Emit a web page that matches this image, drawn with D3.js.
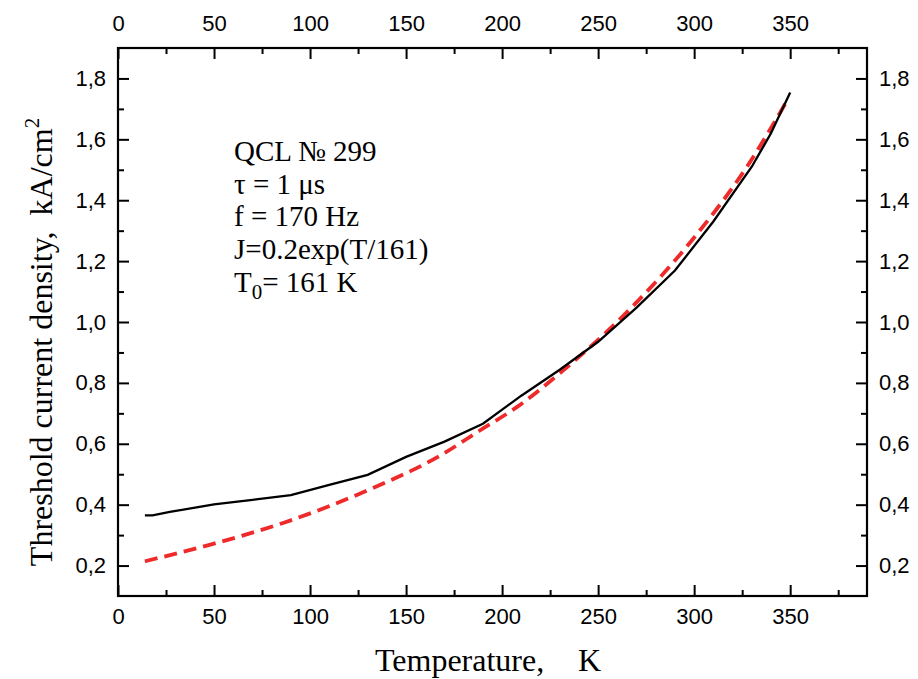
<!DOCTYPE html>
<html>
<head>
<meta charset="utf-8">
<script src="https://cdn.jsdelivr.net/npm/d3@7"></script>
<style>
  body { margin: 0; background: white; }
  .axis path { display: none; }
  .axis line { stroke: black; stroke-width: 2; }
  .axis text { font-family: "Liberation Sans", Arial, sans-serif; font-size: 22px; fill: black; }
</style>
</head>
<body>
<svg id="chart"></svg>
<script>
// --------------------------------------------------------------------------------------
// data
// --------------------------------------------------------------------------------------
var meas_t = [14, 18, 27, 50, 70, 90, 110, 130, 150, 170, 190, 210, 230, 250, 270, 290, 310, 330, 340, 350];
var meas_j = [0.365, 0.365, 0.376, 0.401, 0.416, 0.431, 0.465, 0.498, 0.557, 0.607, 0.666, 0.758, 0.843, 0.935, 1.047, 1.169, 1.33, 1.51, 1.62, 1.754];

var fit_t = [14, 50, 86, 131, 168, 188, 208, 232, 267, 298, 328, 348];
var fit_j = [0.214, 0.272, 0.34, 0.45, 0.562, 0.642, 0.722, 0.842, 1.045, 1.262, 1.515, 1.723];

var x_ticks = [0, 50, 100, 150, 200, 250, 300, 350];
var x_minor = [25, 75, 125, 175, 225, 275, 325, 375];
var y_ticks = [0.2, 0.4, 0.6, 0.8, 1.0, 1.2, 1.4, 1.6, 1.8];
var y_minor = [0.3, 0.5, 0.7, 0.9, 1.1, 1.3, 1.5, 1.7];

var note_lines = ["QCL \u2116 299", "\u03c4 = 1 \u03bcs", "f = 170 Hz", "J=0.2exp(T/161)"];

// --------------------------------------------------------------------------------------
var margin = {top: 48, right: 51, bottom: 83, left: 118};
var total_w = 918, total_h = 679;
var width = total_w - margin.left - margin.right;
var height = total_h - margin.top - margin.bottom;

var x = d3.scaleLinear().domain([0, 390]).range([0, width]);
var y = d3.scaleLinear().domain([0.1, 1.9]).range([height, 0]);

var fmt = function(d) { return d3.format(".1f")(d).replace(".", ","); };
var serif = "'Liberation Serif', 'Times New Roman', serif";

var svg = d3.select("#chart")
            .attr("width", total_w)
            .attr("height", total_h)
            .append("g")
            .attr("transform", "translate(" + margin.left + "," + margin.top + ")");

// ==================================================
// axes, ticks pointing inward
svg.append("g").attr("class", "axis")
   .attr("transform", "translate(0," + height + ")")
   .call(d3.axisBottom(x).tickValues(x_ticks).tickSize(-11).tickPadding(12));
svg.append("g").attr("class", "axis")
   .attr("transform", "translate(0," + height + ")")
   .call(d3.axisBottom(x).tickValues(x_minor).tickSize(-6).tickFormat(""));

svg.append("g").attr("class", "axis")
   .call(d3.axisTop(x).tickValues(x_ticks).tickSize(-11).tickPadding(17));
svg.append("g").attr("class", "axis")
   .call(d3.axisTop(x).tickValues(x_minor).tickSize(-6).tickFormat(""));

svg.append("g").attr("class", "axis")
   .call(d3.axisLeft(y).tickValues(y_ticks).tickSize(-11).tickPadding(12).tickFormat(fmt));
svg.append("g").attr("class", "axis")
   .call(d3.axisLeft(y).tickValues(y_minor).tickSize(-6).tickFormat(""));

svg.append("g").attr("class", "axis")
   .attr("transform", "translate(" + width + ",0)")
   .call(d3.axisRight(y).tickValues(y_ticks).tickSize(-11).tickPadding(12).tickFormat(fmt));
svg.append("g").attr("class", "axis")
   .attr("transform", "translate(" + width + ",0)")
   .call(d3.axisRight(y).tickValues(y_minor).tickSize(-6).tickFormat(""));

// frame
svg.append("rect")
   .attr("width", width)
   .attr("height", height)
   .style("fill", "none")
   .style("stroke", "black")
   .style("stroke-width", 2.2);

// ==================================================
// curves
var meas = meas_t.map(function(t, i) { return [t, meas_j[i]]; });
var fit = fit_t.map(function(t, i) { return [t, fit_j[i]]; });

var line = d3.line()
             .x(function(d) { return x(d[0]); })
             .y(function(d) { return y(d[1]); });

svg.append("path")
   .datum(fit)
   .attr("d", line.curve(d3.curveMonotoneX))
   .style("fill", "none")
   .style("stroke", "#ee2a2a")
   .style("stroke-width", 3.8)
   .style("stroke-dasharray", "13,7");

svg.append("path")
   .datum(meas)
   .attr("d", line.curve(d3.curveLinear))
   .style("fill", "none")
   .style("stroke", "black")
   .style("stroke-width", 2.3);

// ==================================================
// note
var note_x = 234 - margin.left;
var note = svg.append("text")
              .attr("x", note_x)
              .attr("y", 161 - margin.top)
              .style("font-family", serif)
              .style("font-size", "29px")
              .style("fill", "black");

note_lines.forEach(function(s, i) {
  note.append("tspan")
      .attr("x", note_x)
      .attr("dy", i == 0 ? 0 : 32.7)
      .text(s);
});
note.append("tspan").attr("x", note_x).attr("dy", 32.7).text("T");
note.append("tspan").attr("dy", 7).style("font-size", "21px").text("0");
note.append("tspan").attr("dy", -7).text("= 161 K");

// ==================================================
// axis titles
var xtitle = svg.append("text")
   .attr("x", 375 - margin.left)
   .attr("y", height + 75)
   .style("font-family", serif)
   .style("font-size", "32px");
xtitle.append("tspan").text("Temperature,");
xtitle.append("tspan").attr("x", 578 - margin.left).text("K");

var ytitle = svg.append("text")
   .attr("transform", "translate(" + (52 - margin.left) + "," + (height / 2 + 20) + ") rotate(-90)")
   .attr("text-anchor", "middle")
   .style("font-family", serif)
   .style("font-size", "32px");
ytitle.append("tspan").text("Threshold current density,\u00a0 kA/cm");
ytitle.append("tspan").attr("dy", -13).style("font-size", "21px").text("2");
</script>
</body>
</html>
